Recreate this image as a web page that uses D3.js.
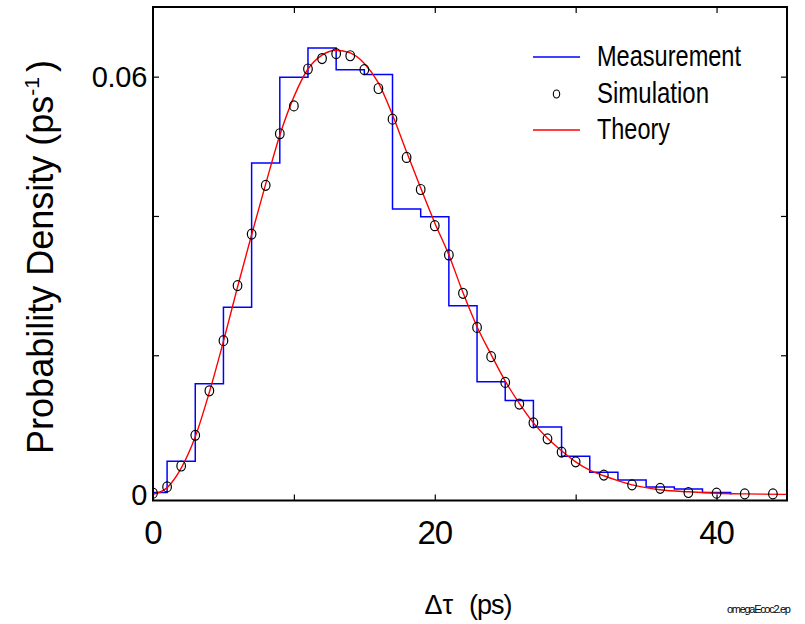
<!DOCTYPE html>
<html>
<head>
<meta charset="utf-8">
<script src="https://cdn.jsdelivr.net/npm/d3@7"></script>
<style>
  body { margin: 0; background: #fff; }
  svg { display: block; }
  text { font-family: "Liberation Sans", Arial, sans-serif; fill: #000; }
</style>
</head>
<body>
<svg width="805" height="624"></svg>
<script>
var svg = d3.select("svg");

// measurement histogram: bin edges (ps) and density in each bin
var measEdges = [0, 1, 3, 5, 7, 9, 11, 13, 15, 17, 19, 21, 23, 25, 27, 29, 31, 33, 35, 37, 39, 41];
var measValues = [0.0003, 0.0048, 0.0159, 0.0269, 0.0476, 0.0599, 0.0641, 0.0610, 0.0603, 0.0410,
                  0.0399, 0.0271, 0.0162, 0.0135, 0.0097, 0.0055, 0.0032, 0.0021, 0.0011, 0.0008, 0.0003];

// simulation points
var simX = [0, 1, 2, 3, 4, 5, 6, 7, 8, 9, 10, 11, 12, 13, 14, 15, 16, 17, 18, 19, 20,
            21, 22, 23, 24, 25, 26, 27, 28, 29, 30, 32, 34, 36, 38, 40, 42, 44];
var simY = [0.0002, 0.0011, 0.0041, 0.0085, 0.0149, 0.0221, 0.0300, 0.0374, 0.0444, 0.0518, 0.0558,
            0.0611, 0.0626, 0.0633, 0.0630, 0.0610, 0.0583, 0.0539, 0.0484, 0.0438, 0.0386,
            0.0344, 0.0289, 0.0240, 0.0198, 0.0161, 0.0130, 0.0103, 0.0080, 0.0061, 0.0047,
            0.0028, 0.0014, 0.0009, 0.0003, 0.0002, 0.0001, 0.0001];

// theory curve
var theoryX = [0, 1, 2, 3, 4, 5, 6, 7, 8, 9, 10, 11, 12, 13, 14, 15, 16, 17, 18, 19, 20,
               21, 22, 23, 24, 25, 26, 27, 28, 29, 30, 31, 32, 33, 34, 35, 36, 38, 40, 42, 45];
var theoryY = [0.00005, 0.0010, 0.0038, 0.0083, 0.0147, 0.0220, 0.0298, 0.0373, 0.0446, 0.0516, 0.0571,
               0.0611, 0.0631, 0.0638, 0.0634, 0.0619, 0.0591, 0.0545, 0.0492, 0.0440, 0.0390,
               0.0344, 0.0290, 0.0241, 0.0201, 0.0163, 0.0131, 0.0103, 0.0081, 0.0063, 0.0047,
               0.0035, 0.0027, 0.0020, 0.0014, 0.0010, 0.0007, 0.0004, 0.0002, 0.0001, 0.00003];

var xTicks = [10, 20, 30, 40];
var xLabels = [0, 20, 40];
var yTicks = [0.02, 0.04, 0.06];
var yLabels = [0, 0.06];

var legendNames = ["Measurement", "Simulation", "Theory"];

var frameL = 153, frameR = 787, frameT = 7, frameB = 500.5;

var x = d3.scaleLinear().domain([0, 45]).range([frameL, frameR]);
var y = d3.scaleLinear().domain([-0.00085, 0.07]).range([frameB, frameT]);

// inward ticks on all four sides
svg.append("g").attr("transform", "translate(0," + frameB + ")")
  .call(d3.axisBottom(x).tickValues(xTicks).tickSize(-6).tickFormat(""));
svg.append("g").attr("transform", "translate(0," + frameT + ")")
  .call(d3.axisTop(x).tickValues(xTicks).tickSize(-6).tickFormat(""));
svg.append("g").attr("transform", "translate(" + frameL + ",0)")
  .call(d3.axisLeft(y).tickValues(yTicks).tickSize(-6).tickFormat(""));
svg.append("g").attr("transform", "translate(" + frameR + ",0)")
  .call(d3.axisRight(y).tickValues(yTicks).tickSize(-6).tickFormat(""));
svg.selectAll(".domain").remove();
svg.selectAll(".tick line").attr("stroke", "#000").attr("stroke-width", 1.2);

// tick labels
svg.selectAll(".xlab").data(xLabels).enter().append("text")
  .attr("x", d => x(d))
  .attr("y", 544)
  .attr("text-anchor", "middle")
  .style("font-size", "33px")
  .style("letter-spacing", "-1px")
  .text(d => d);

svg.selectAll(".ylab").data(yLabels).enter().append("text")
  .attr("x", 147)
  .attr("y", d => y(d) + 10.6)
  .attr("text-anchor", "end")
  .style("font-size", "29px")
  .style("letter-spacing", "-0.3px")
  .text(d => d === 0 ? "0" : d3.format(".2f")(d));

// clip to frame
svg.append("clipPath").attr("id", "clip").append("rect")
  .attr("x", frameL).attr("y", frameT).attr("width", frameR - frameL).attr("height", frameB - frameT);
var plot = svg.append("g").attr("clip-path", "url(#clip)");

// measurement histogram
var histPts = measEdges.map((e, i) => ({x: e, y: i < measValues.length ? measValues[i] : 0}));
var step = d3.line().x(d => x(d.x)).y(d => y(d.y)).curve(d3.curveStepAfter);
plot.append("path")
  .attr("fill", "none")
  .attr("stroke", "#0000ff")
  .attr("stroke-width", 1.5)
  .attr("d", step(histPts));

// theory
var theoryPts = theoryX.map((t, i) => ({x: t, y: theoryY[i]}));
var smooth = d3.line().x(d => x(d.x)).y(d => y(d.y)).curve(d3.curveMonotoneX);
plot.append("path")
  .attr("fill", "none")
  .attr("stroke", "#ff0000")
  .attr("stroke-width", 1.4)
  .attr("d", smooth(theoryPts));

// simulation
plot.selectAll(".sim").data(simX).enter().append("ellipse")
  .attr("cx", d => x(d))
  .attr("cy", (d, i) => y(simY[i]))
  .attr("rx", 4.3)
  .attr("ry", 5)
  .attr("fill", "none")
  .attr("stroke", "#000")
  .attr("stroke-width", 1.2);

// frame
svg.append("rect")
  .attr("x", frameL).attr("y", frameT)
  .attr("width", frameR - frameL).attr("height", frameB - frameT)
  .attr("fill", "none")
  .attr("stroke", "#000")
  .attr("stroke-width", 2);

// legend
var legY = [57, 94, 130];
var legW = [144, 112, 73];
var leg = svg.append("g");
leg.append("line").attr("x1", 533).attr("x2", 580).attr("y1", legY[0]).attr("y2", legY[0])
  .attr("stroke", "#0000ff").attr("stroke-width", 1.5);
leg.append("ellipse").attr("cx", 556.5).attr("cy", legY[1]).attr("rx", 3.2).attr("ry", 4)
  .attr("fill", "none").attr("stroke", "#000").attr("stroke-width", 1.1);
leg.append("line").attr("x1", 533).attr("x2", 580).attr("y1", legY[2]).attr("y2", legY[2])
  .attr("stroke", "#ff0000").attr("stroke-width", 1.5);
leg.selectAll("text").data(legendNames).enter().append("text")
  .attr("x", 597)
  .attr("y", (d, i) => legY[i] + 9)
  .attr("textLength", (d, i) => legW[i])
  .attr("lengthAdjust", "spacingAndGlyphs")
  .style("font-size", "29px")
  .text(d => d);

// axis titles
var yt = svg.append("text")
  .attr("transform", "translate(53,257) rotate(-90)")
  .attr("text-anchor", "middle")
  .style("font-size", "36px");
yt.append("tspan").text("Probability Density (ps");
yt.append("tspan").attr("dy", -14).style("font-size", "21px").text("-1");
yt.append("tspan").attr("dy", 14).attr("dx", 5).text(")");

var xt = svg.append("text")
  .attr("x", 468)
  .attr("y", 614)
  .attr("text-anchor", "middle")
  .style("font-size", "27px");
xt.append("tspan").text("\u0394\u03c4");
xt.append("tspan").attr("dx", 16).style("letter-spacing", "-1px").text("(ps)");

svg.append("text")
  .attr("x", 727)
  .attr("y", 613)
  .style("font-size", "11px")
  .style("letter-spacing", "-1.3px")
  .text("omegaEcoc2.ep");
</script>
</body>
</html>
